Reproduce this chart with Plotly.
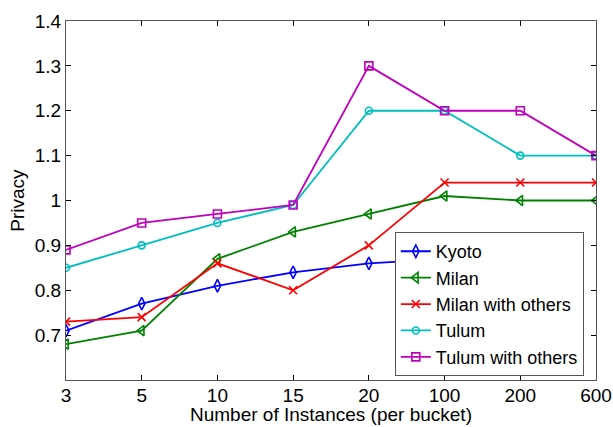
import plotly.graph_objects as go

categories = ["3", "5", "10", "15", "20", "100", "200", "600"]
kyoto = [0.71, 0.77, 0.81, 0.84, 0.86, 0.87, 0.87, None]
milan = [0.68, 0.71, 0.87, 0.93, 0.97, 1.01, 1.00, 1.00]
milan_others = [0.73, 0.74, 0.86, 0.80, 0.90, 1.04, 1.04, 1.04]
tulum = [0.85, 0.90, 0.95, 0.99, 1.20, 1.20, 1.10, 1.10]
tulum_others = [0.89, 0.95, 0.97, 0.99, 1.30, 1.20, 1.20, 1.10]

y_tickvals = [0.7, 0.8, 0.9, 1.0, 1.1, 1.2, 1.3, 1.4]
y_ticktext = ["0.7", "0.8", "0.9", "1", "1.1", "1.2", "1.3", "1.4"]

series = [
    ("Kyoto", kyoto, "#0000FF", "diamond-tall-open", 9),
    ("Milan", milan, "#008000", "triangle-left-open", 9),
    ("Milan with others", milan_others, "#FF0000", "x-thin-open", 8),
    ("Tulum", tulum, "#00BFBF", "circle-open", 7),
    ("Tulum with others", tulum_others, "#BF00BF", "square-open", 8),
]

FONT = "Liberation Sans, Arial, sans-serif"
FS = 19

fig = go.Figure()
for name, vals, color, sym, size in series:
    fig.add_trace(go.Scatter(
        x=categories, y=vals, name=name, mode="lines+markers",
        line=dict(color=color, width=1.8),
        marker=dict(symbol=sym, size=size, color=color,
                    line=dict(color=color, width=1.6)),
        connectgaps=False,
    ))

fig.update_layout(
    width=613, height=427,
    margin=dict(l=66, r=17, t=21, b=47),
    paper_bgcolor="white", plot_bgcolor="white",
    font=dict(family=FONT, size=FS, color="black"),
    showlegend=True,
    legend=dict(
        x=0.977, y=0.011, xanchor="right", yanchor="bottom",
        bgcolor="white", bordercolor="#555555", borderwidth=1,
        font=dict(family=FONT, size=18, color="black"),
        tracegroupgap=0, itemwidth=30,
    ),
    annotations=[
        dict(text="Number of Instances (per bucket)", xref="paper", yref="paper",
             x=0.5, y=-0.1305, xanchor="center", yanchor="bottom",
             showarrow=False, font=dict(family=FONT, size=FS, color="black")),
        dict(text="Privacy", xref="paper", yref="paper", textangle=-90,
             x=-0.092, y=0.5, xanchor="center", yanchor="middle",
             showarrow=False, font=dict(family=FONT, size=FS, color="black")),
    ],
)

fig.update_xaxes(
    type="category", range=[0, 7], automargin=False,
    showgrid=False, zeroline=False,
    showline=True, linecolor="#555555", linewidth=1, mirror="ticks",
    ticks="inside", ticklen=5, tickcolor="black",
    tickfont=dict(family=FONT, size=FS), ticklabelstandoff=-2,
)
fig.update_yaxes(
    range=[0.6, 1.4], automargin=False,
    tickvals=y_tickvals, ticktext=y_ticktext,
    showgrid=False, zeroline=False,
    showline=True, linecolor="#555555", linewidth=1, mirror="ticks",
    ticks="inside", ticklen=5, tickcolor="black",
    tickfont=dict(family=FONT, size=FS),
)

fig.write_html(
    "out.html",
    config={"displayModeBar": False},
    post_script="document.body.style.margin='0';document.body.style.overflow='hidden';",
)
